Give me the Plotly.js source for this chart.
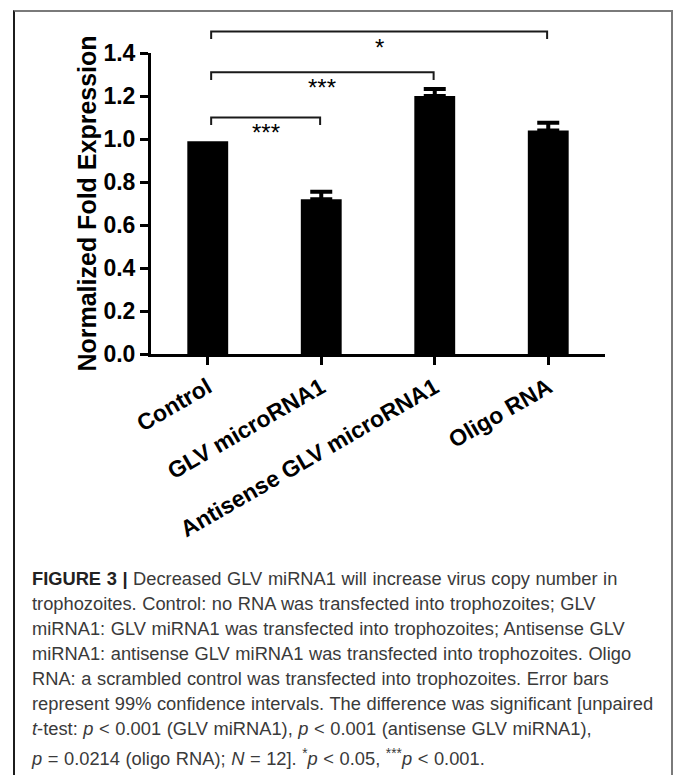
<!DOCTYPE html>
<html>
<head>
<meta charset="utf-8">
<script src="https://cdn.plot.ly/plotly-3.0.1.min.js"></script>
<style>
  html, body { margin: 0; padding: 0; width: 673px; height: 775px; overflow: hidden; background: #ffffff; }
  #frame { position: absolute; left: 13px; top: 10px; width: 656px; height: 800px;
           border-left: 2px solid #1c1c1c; border-top: 2px solid #7a7a7a; border-right: 2px solid #7a7a7a; }
  #plot { position: absolute; left: 0; top: 0; width: 673px; height: 560px; }
  #caption { position: absolute; left: 32px; top: 566px; font-family: "Liberation Sans", Arial, sans-serif;
             font-size: 18.3px; line-height: 25px; color: #3a3a3a; white-space: nowrap; word-spacing: 0.5px; }
  #caption b { color: #222; }
</style>
</head>
<body>
<div id="frame"></div>
<div id="plot"></div>
<div id="caption">
<b>FIGURE 3 |</b> Decreased GLV miRNA1 will increase virus copy number in<br>
trophozoites. Control: no RNA was transfected into trophozoites; GLV<br>
miRNA1: GLV miRNA1 was transfected into trophozoites; Antisense GLV<br>
miRNA1: antisense GLV miRNA1 was transfected into trophozoites. Oligo<br>
RNA: a scrambled control was transfected into trophozoites. Error bars<br>
represent 99% confidence intervals. The difference was significant [unpaired<br>
<i>t</i>-test: <i>p</i> &lt; 0.001 (GLV miRNA1), <i>p</i> &lt; 0.001 (antisense GLV miRNA1),<br>
<i>p</i> = 0.0214 (oligo RNA); <i>N</i> = 12]. <sup style="font-size:0.75em">*</sup><i>p</i> &lt; 0.05, <sup style="font-size:0.75em">***</sup><i>p</i> &lt; 0.001.
</div>
<script>
// ---- data ----
const categories = ['Control', 'GLV microRNA1', 'Antisense GLV microRNA1', 'Oligo RNA'];
const foldExpression = [0.99, 0.72, 1.20, 1.04];
const ciUpper = [NaN, 0.035, 0.033, 0.036];   // control: no interval drawn
const yTickVals = [0.0, 0.2, 0.4, 0.6, 0.8, 1.0, 1.2, 1.4];
const yMax = 1.4;

// significance brackets (category index from/to, bracket height in data units, label)
const bracketFrom = [0, 0, 0];
const bracketTo = [1, 2, 3];
const bracketLevel = [1.10, 1.31, 1.50];
const bracketLabels = ['***', '***', '*'];

// ---- build ----
const FONT = 'Arial, "Liberation Sans", sans-serif';

const trace = {
  type: 'bar',
  x: categories.map((c, i) => i),
  y: foldExpression,
  width: 0.36,
  marker: { color: '#000000', line: { width: 0 } },
  error_y: {
    type: 'data', symmetric: false,
    array: ciUpper,
    arrayminus: ciUpper.map(v => (isNaN(v) ? NaN : 0)),
    color: '#000000', thickness: 4, width: 11
  },
  hoverinfo: 'skip'
};

const shapes = [];
const annotations = [];
const tipDrop = 0.035;
for (let k = 0; k < bracketFrom.length; k++) {
  const x0 = bracketFrom[k] + 0.03;
  const x1 = bracketTo[k] - 0.01;
  const yTop = bracketLevel[k] / yMax;
  const yTip = (bracketLevel[k] - tipDrop) / yMax;
  shapes.push({
    type: 'path', xref: 'x', yref: 'paper',
    path: `M ${x0},${yTip} L ${x0},${yTop} L ${x1},${yTop} L ${x1},${yTip}`,
    line: { color: '#1a1a1a', width: 2 }
  });
  annotations.push({
    xref: 'x', yref: 'paper', x: (x0 + x1) / 2, y: yTop,
    yanchor: 'top', xanchor: 'center', showarrow: false,
    text: bracketLabels[k], font: { family: FONT, size: 24, color: '#000' }, yshift: 0
  });
}

const layout = {
  width: 673, height: 560,
  margin: { l: 151, r: 68, t: 53, b: 206 },
  paper_bgcolor: 'rgba(0,0,0,0)', plot_bgcolor: 'rgba(0,0,0,0)',
  showlegend: false,
  font: { family: FONT, color: '#000' },
  xaxis: {
    range: [-0.5, 3.5],
    tickvals: categories.map((c, i) => i),
    ticktext: categories,
    tickangle: -30,
    tickfont: { family: FONT, size: 23, weight: 'bold', color: '#000' },
    showline: true, linewidth: 3, linecolor: '#000',
    ticks: 'outside', ticklen: 8, tickwidth: 3, tickcolor: '#000',
    showgrid: false, zeroline: false, fixedrange: true
  },
  yaxis: {
    range: [0, yMax],
    tickvals: yTickVals,
    tickformat: '.1f',
    tickfont: { family: FONT, size: 23, weight: 'bold', color: '#000' },
    showline: true, linewidth: 3, linecolor: '#000',
    ticks: 'outside', ticklen: 8, tickwidth: 3, tickcolor: '#000',
    showgrid: false, zeroline: false, fixedrange: true,
    title: { text: 'Normalized Fold Expression', standoff: 0,
             font: { family: FONT, size: 25, weight: 'bold', color: '#000' } }
  },
  shapes: shapes,
  annotations: annotations
};

Plotly.newPlot('plot', [trace], layout, { displayModeBar: false, staticPlot: true });
</script>
</body>
</html>
